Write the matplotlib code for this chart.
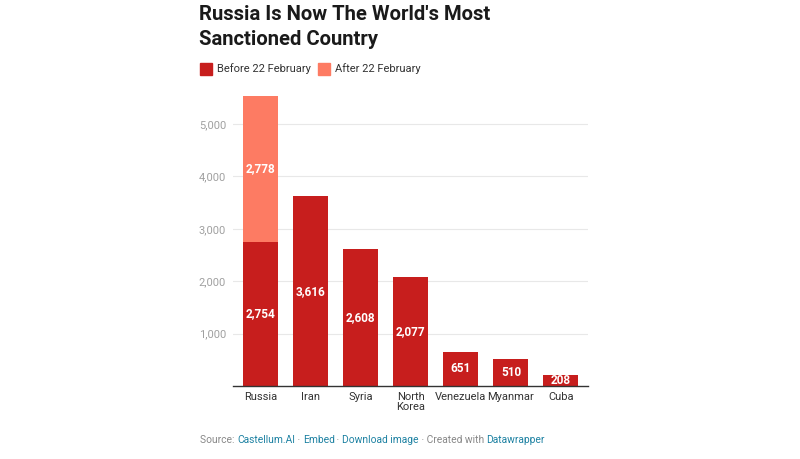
import matplotlib.pyplot as plt

plt.rcParams['font.family'] = ['Roboto', 'DejaVu Sans']

countries = ["Russia", "Iran", "Syria", "North\nKorea", "Venezuela", "Myanmar", "Cuba"]
before = [2754, 3616, 2608, 2077, 651, 510, 208]
after = [2778, 0, 0, 0, 0, 0, 0]

dark_red = '#c71e1d'
salmon = '#fd7b63'

fig = plt.figure(figsize=(8, 4.59), dpi=100)
ax = fig.add_axes([233 / 800, 1 - 386 / 459, (588 - 233) / 800, (386 - 96) / 459])

x = list(range(len(countries)))
ax.bar(x, before, width=0.7, color=dark_red, zorder=2)
ax.bar(x, after, width=0.7, bottom=before, color=salmon, zorder=2)

for i in x:
    ax.text(i, before[i] / 2, f"{before[i]:,}", ha='center', va='center',
            color='white', fontsize=8.5, fontweight='bold', zorder=3)
    if after[i] > 0:
        ax.text(i, before[i] + after[i] / 2, f"{after[i]:,}", ha='center', va='center',
                color='white', fontsize=8.5, fontweight='bold', zorder=3)

ax.set_xlim(-0.556, 6.54)
ax.set_ylim(0, before[0] + after[0])
ax.set_yticks([1000, 2000, 3000, 4000, 5000])
ax.set_yticklabels([f"{v:,}" for v in [1000, 2000, 3000, 4000, 5000]])
ax.set_xticks(x)
ax.set_xticklabels(countries)
ax.tick_params(axis='y', length=0, pad=5, labelsize=8, labelcolor='#a0a0a0')
ax.tick_params(axis='x', length=0, pad=4, labelsize=8, labelcolor='#333333')
for lbl in ax.get_xticklabels():
    lbl.set_va('top')
    lbl.set_linespacing(1.05)
ax.grid(axis='y', color='#e8e8e8', linewidth=0.8, zorder=0)
for s in ['top', 'right', 'left']:
    ax.spines[s].set_visible(False)
ax.spines['bottom'].set_color('#333333')
ax.spines['bottom'].set_linewidth(1)
ax.spines['bottom'].set_zorder(4)

fig.text(199 / 800, 1 - 5 / 459, "Russia Is Now The World's Most\nSanctioned Country",
         ha='left', va='top', fontsize=14.6, fontweight='bold', color='#1a1a1a',
         linespacing=1.38)

# legend
fig.patches.append(plt.Rectangle((200 / 800, 1 - 75 / 459), 12 / 800, 12 / 459,
                                 transform=fig.transFigure, color=dark_red))
fig.text(217 / 800, 1 - 69 / 459, "Before 22 February", ha='left', va='center',
         fontsize=8, color='#333333')
fig.patches.append(plt.Rectangle((318 / 800, 1 - 75 / 459), 12 / 800, 12 / 459,
                                 transform=fig.transFigure, color=salmon))
fig.text(335 / 800, 1 - 69 / 459, "After 22 February", ha='left', va='center',
         fontsize=8, color='#333333')

# footer: gray full line, blue link words laid over it
footer = [("Source: ", False), ("Castellum.AI", True), (" · ", False),
          ("Embed", True), (" · ", False), ("Download image", True),
          (" · Created with ", False), ("Datawrapper", True)]
fig.canvas.draw()
renderer = fig.canvas.get_renderer()
x0 = 200 / 800
y0 = 1 - 440 / 459


def width_of(s):
    t = fig.text(0, 0, s + "|", fontsize=7.4)
    w = t.get_window_extent(renderer=renderer).width
    t.remove()
    t = fig.text(0, 0, "|", fontsize=7.4)
    w -= t.get_window_extent(renderer=renderer).width
    t.remove()
    return w / fig.bbox.width


prefix = ""
for txt, link in footer:
    if link:
        fig.text(x0 + width_of(prefix), y0, txt, ha='left', va='center',
                 fontsize=7.4, color='#1d81a2')
    else:
        fig.text(x0 + width_of(prefix), y0, txt, ha='left', va='center',
                 fontsize=7.4, color='#888888')
    prefix += txt

fig.savefig('out.png', dpi=100)
